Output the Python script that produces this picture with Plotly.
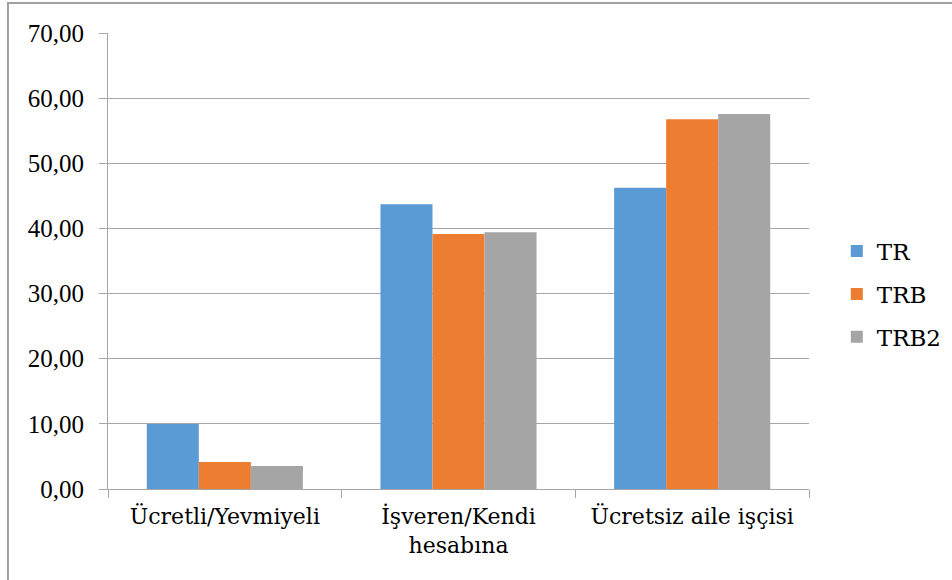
import plotly.graph_objects as go

categories = ['Ücretli/Yevmiyeli', 'İşveren/Kendi<br>hesabına', 'Ücretsiz aile işçisi']
tr = [9.98, 43.70, 46.26]
trb = [4.14, 39.15, 56.75]
trb2 = [3.53, 39.40, 57.57]

series = [('TR', tr, '#5B9BD5'), ('TRB', trb, '#ED7D31'), ('TRB2', trb2, '#A5A5A5')]

# digits look right in Liberation Serif, letters need DejaVu Serif here
num_font = 'Liberation Serif'
txt_font = 'DejaVu Serif'

fig = go.Figure()
for name, vals, color in series:
    fig.add_trace(go.Bar(x=categories, y=vals, name=name, legendgroup=name,
                         marker=dict(color=color, line=dict(width=0))))

fig.update_layout(
    width=952, height=580,
    margin=dict(l=108, r=143, t=33, b=91),
    paper_bgcolor='white', plot_bgcolor='white',
    font=dict(family=txt_font, size=22, color='black'),
    barmode='group', bargap=0.332, bargroupgap=0,
    separators=',.',
    showlegend=True,
    legend=dict(xref='container', yref='container', x=0.879, y=0.493,
                xanchor='left', yanchor='middle',
                font=dict(family=txt_font, size=23), itemwidth=30, tracegroupgap=10),
)

fig.update_xaxes(
    showline=True, linecolor='#A6A6A6', linewidth=1,
    ticks='outside', tickson='boundaries', ticklen=8, tickcolor='#A6A6A6',
    showgrid=False, tickfont=dict(family=txt_font, size=22), ticklabelstandoff=8,
)
fig.update_yaxes(
    range=[0, 70], dtick=10, tickformat='.2f',
    showline=True, linecolor='#A6A6A6', linewidth=1,
    ticks='outside', ticklen=8, tickcolor='#A6A6A6',
    showgrid=True, gridcolor='#A6A6A6', gridwidth=1,
    zeroline=False, ticklabelstandoff=10, tickfont=dict(family=num_font, size=25),
)

# outer chart frame (top-left corner visible)
fig.add_shape(type='rect', xref='paper', yref='paper',
              x0=-0.1427, x1=1.4, y0=-0.3, y1=1.0658,
              line=dict(color='#A0A0A0', width=2), layer='below')

fig.write_html('out.html', config={'displayModeBar': False},
               post_script="document.body.style.margin='0';")
